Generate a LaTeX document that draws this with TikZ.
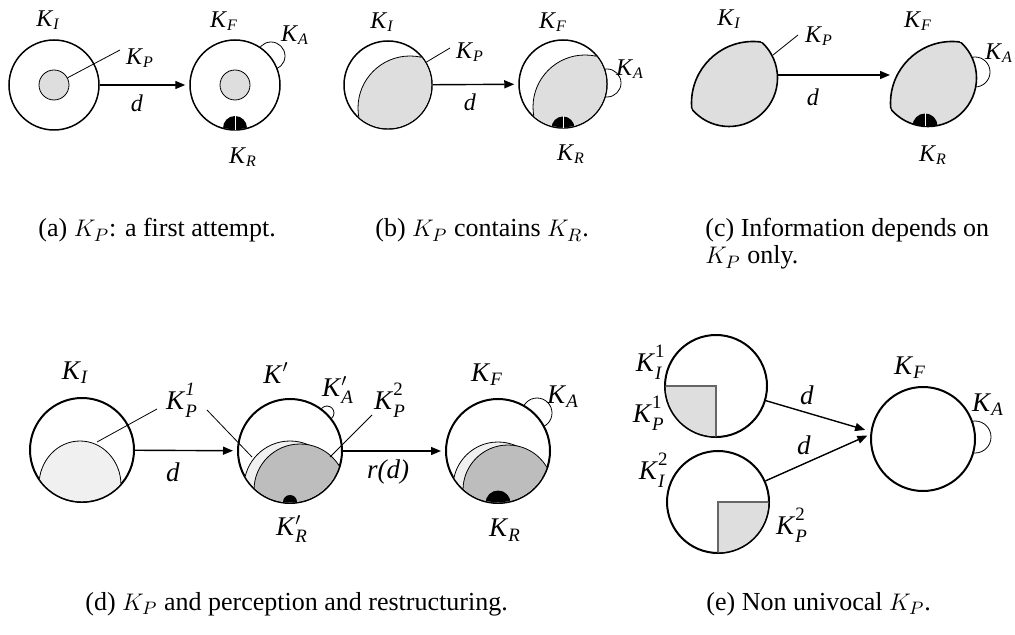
\documentclass[tikz,border=0pt]{standalone}
\usepackage{amsmath}
\usepackage{fontspec}
\setmainfont{Liberation Serif}
\usetikzlibrary{arrows.meta}
\definecolor{kgray}{gray}{0.87}
\definecolor{klight}{gray}{0.94}
\definecolor{kdark}{gray}{0.74}
\definecolor{kedge}{gray}{0.4}
\newcommand{\Ksub}[1]{\textit{K}$_{\textit{#1}}$}
\newcommand{\Ksup}[2]{\textit{K}$_{\textit{#1}}^{\raisebox{2pt}{$\scriptstyle #2$}}$}
\begin{document}
\begin{tikzpicture}[x=0.5pt,y=-0.5pt,
    kc/.style={circle, draw, fill=white, inner sep=0pt, line width=0.75pt, minimum size=#1},
    kcb/.style={kc=#1, line width=1pt},
    kp/.style={circle, draw, fill=kgray, inner sep=0pt, line width=0.4pt, minimum size=15pt},
    kl/.style={line width=0.4pt},
    arr/.style={-{Triangle[length=5pt,width=4pt]}, line width=0.7pt, shorten >=2pt},
    lab/.style={font=\fontsize{12}{14}\selectfont, inner sep=0pt},
    labd/.style={font=\fontsize{13.5}{15}\selectfont, inner sep=0pt},
    subcap/.style={font=\fontsize{13}{13.5}\selectfont, anchor=base west, inner sep=0pt}]
    \useasboundingbox (0,0) rectangle (1015,635);

    % (a) first attempt
    \node[kc=45pt] (aI) at (54,85) {};
    \node[kp] (aPI) at (54,85) {};
    \coordinate (aPl) at (120,50);
    \draw[kl] (aPI) -- (aPl);
    \draw[kl] (271,56) circle (14);
    \node[kc=45pt] (aF) at (235,85) {};
    \node[kp] (aPF) at (235,85) {};
    \begin{scope}
        \clip (aF.center) circle (44.3);
        \fill (235,128) circle (12);
    \end{scope}
    \draw[white, line width=0.3pt] (235,116) -- (235,130);
    \draw[arr] (aI) -- (aF);
    \node[lab] (aKI) at (48,20) {\Ksub{I}};
    \node[lab] (aKP) at (140,58) {\Ksub{P}};
    \node[lab] (ad) at (137,103) {\textit{d}};
    \node[lab] (aKF) at (224,21) {\Ksub{F}};
    \node[lab] (aKA) at (295,35) {\Ksub{A}};
    \node[lab] (aKR) at (243,157) {\Ksub{R}};

    % (b) KP contains KR
    \node[kc=44pt] (bI) at (388,85) {};
    \begin{scope}
        \clip (bI.center) circle (43.3);
        \filldraw[fill=kgray, kl] (410,108) circle (52);
    \end{scope}
    \coordinate (bPl) at (450,48);
    \draw[kl] (bI) -- (bPl);
    \draw[kl] (607,83) circle (14);
    \node[kc=44pt] (bF) at (563,84) {};
    \begin{scope}
        \clip (bF.center) circle (43.3);
        \filldraw[fill=kgray, kl] (585,107) circle (52);
        \fill (563,128) circle (11.5);
    \end{scope}
    \draw[white, line width=0.3pt] (563,116.5) -- (563,128);
    \draw[arr] (bI) -- (bF);
    \node[lab] (bKI) at (382,22) {\Ksub{I}};
    \node[lab] (bKP) at (470,52) {\Ksub{P}};
    \node[lab] (bd) at (470,102) {\textit{d}};
    \node[lab] (bKF) at (553,22) {\Ksub{F}};
    \node[lab] (bKA) at (630,69) {\Ksub{A}};
    \node[lab] (bKR) at (571,154) {\Ksub{R}};

    % (c) only KP
    \draw[kl] (975,72) circle (15);
    \foreach \dx in {0,199} {
        \begin{scope}[shift={(\dx,0)}]
            \begin{scope}
                \clip (729,78) circle (48.5);
                \fill[kgray] (753,103) circle (61.5);
                \draw[line width=0.8pt] (753,103) circle (61.5);
            \end{scope}
            \begin{scope}
                \clip (753,103) circle (61.5);
                \draw[line width=0.8pt] (729,78) circle (48.5);
            \end{scope}
        \end{scope}
    }
    \begin{scope}
        \clip (928,78) circle (48.5);
        \fill (925,126) circle (12.5);
    \end{scope}
    \draw[white, line width=0.3pt] (925,113.5) -- (925,126.5);
    \coordinate (cPr) at (777,75);
    \coordinate (cFl) at (894,75);
    \draw[arr] (cPr) -- (cFl);
    \coordinate (cPa) at (773,55);
    \coordinate (cPl) at (798,35);
    \draw[kl] (cPa) -- (cPl);
    \node[lab] (cKI) at (729,19) {\Ksub{I}};
    \node[lab] (cKP) at (819,36) {\Ksub{P}};
    \node[lab] (cd) at (813,97) {\textit{d}};
    \node[lab] (cKF) at (918,21) {\Ksub{F}};
    \node[lab] (cKA) at (999,53) {\Ksub{A}};
    \node[lab] (cKR) at (933,155) {\Ksub{R}};

    % (d) perception and restructuring
    \node[kcb=52pt] (dI) at (82,450) {};
    \begin{scope}
        \clip (dI.center) circle (51.3);
        \filldraw[fill=klight, kl] (80,485) ellipse (41 and 44);
    \end{scope}
    \draw[kl] (327,413) circle (7);
    \node[kcb=52pt] (dK) at (290,451) {};
    \begin{scope}
        \clip (dK.center) circle (51.3);
        \filldraw[fill=klight, kl] (290,487) circle (46);
        \filldraw[fill=kdark, kl] (300,490) circle (46);
        \fill (290,502) circle (7);
    \end{scope}
    \draw[kl] (537,413) circle (15);
    \node[kcb=52pt] (dF) at (498,451) {};
    \begin{scope}
        \clip (dF.center) circle (51.3);
        \filldraw[fill=klight, kl] (498,487) circle (45);
        \filldraw[fill=kdark, kl] (508,490) circle (45);
        \fill (498,503) circle (12.5);
    \end{scope}
    \draw[arr] (dI) -- (dK);
    \draw[arr] (dK) -- (dF);
    \coordinate (dP1i) at (97,442);
    \coordinate (dP1o) at (157,409);
    \coordinate (dP1p) at (207,410);
    \coordinate (dP1k) at (252,457);
    \coordinate (dP2p) at (372,415);
    \coordinate (dP2k) at (330,457);
    \draw[kl] (dP1i) -- (dP1o);
    \draw[kl] (dP1p) -- (dP1k);
    \draw[kl] (dP2p) -- (dP2k);
    \node[labd] (dKI) at (75,373) {\Ksub{I}};
    \node[labd] (dKP1) at (182,400) {\Ksup{P}{\textit{1}}};
    \node[labd] (dd) at (173,472) {\textit{d}};
    \node[labd] (dKp) at (276,373) {\textit{K}$'$};
    \node[labd] (dKAp) at (338,390) {\textit{K}$'_{\textit{A}}$};
    \node[labd] (dKP2) at (390,400) {\Ksup{P}{\textup{2}}};
    \node[labd] (drd) at (388,472) {\textit{r(d)}};
    \node[labd] (dKRp) at (292,529) {\textit{K}$'_{\textit{R}}$};
    \node[labd] (dKF) at (487,375) {\Ksub{F}};
    \node[labd] (dKA) at (563,397) {\Ksub{A}};
    \node[labd] (dKR) at (505,530) {\Ksub{R}};

    % (e) non univocal KP
    \node[kcb=51pt] (eI1) at (716,386) {};
    \begin{scope}
        \clip (eI1.center) circle (50.3);
        \filldraw[fill=kgray, draw=kedge, line width=0.6pt] (716,386) rectangle (660,445);
    \end{scope}
    \node[kcb=51pt] (eI2) at (718,502) {};
    \begin{scope}
        \clip (eI2.center) circle (50.3);
        \filldraw[fill=kgray, draw=kedge, line width=0.6pt] (718,502) rectangle (775,560);
    \end{scope}
    \draw[kl] (975,437) circle (16);
    \node[kcb=52pt] (eF) at (923,439) {};
    \coordinate (eT1) at (869,431);
    \coordinate (eT2) at (871,434);
    \draw[arr] (eI1) -- (eT1);
    \draw[arr] (eI2) -- (eT2);
    \node[labd, anchor=east] (eKI1) at (666,362) {\Ksup{I}{\textup{1}}};
    \node[labd, anchor=east] (eKP1) at (665,413) {\Ksup{P}{\textup{1}}};
    \node[labd, anchor=east] (eKI2) at (669,470) {\Ksup{I}{\textup{2}}};
    \node[labd] (eKP2) at (792,525) {\Ksup{P}{\textup{2}}};
    \node[labd] (ed1) at (807,395) {\textit{d}};
    \node[labd] (ed2) at (804,445) {\textit{d}};
    \node[labd] (eKF) at (910,368) {\Ksub{F}};
    \node[labd] (eKA) at (988,405) {\Ksub{A}};

    % captions
    \node[subcap] (capa) at (38,237) {(a) $K_P$: a first attempt.};
    \node[subcap] (capb) at (375,237) {(b) $K_P$ contains $K_R$.};
    \node[subcap] (capc) at (705,237) {(c) Information depends on};
    \node[subcap] (capc2) at (705,264) {$K_P$ only.};
    \node[subcap] (capd) at (85,610) {(d) $K_P$ and perception and restructuring.};
    \node[subcap] (cape) at (706,610) {(e) Non univocal $K_P$.};
\end{tikzpicture}
\end{document}
